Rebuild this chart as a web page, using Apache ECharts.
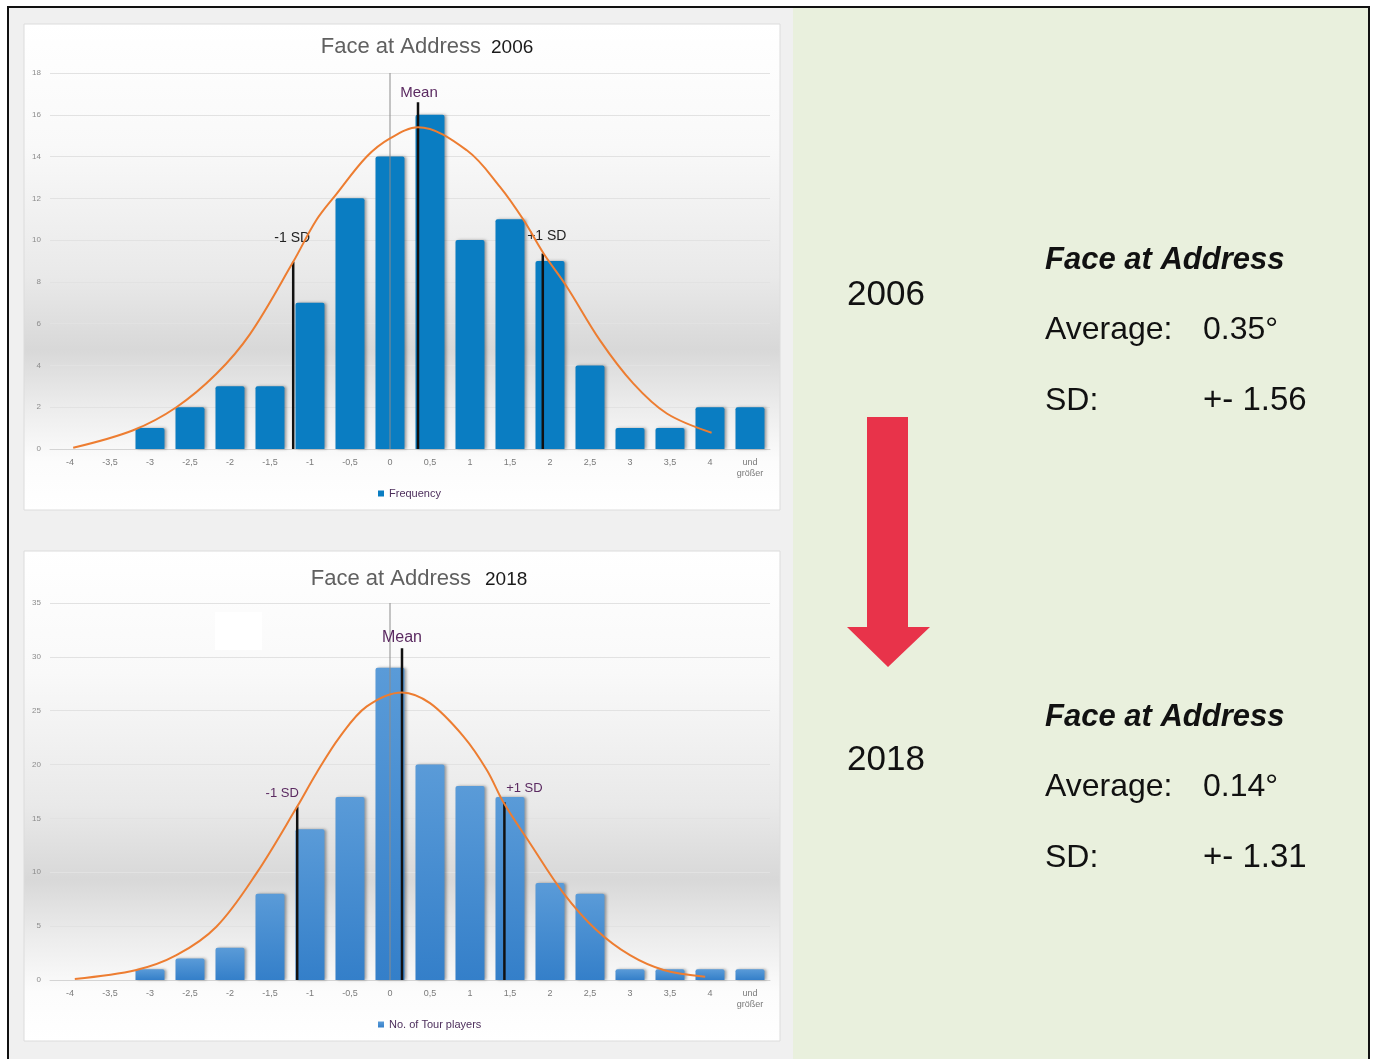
<!DOCTYPE html>
<html>
<head>
<meta charset="utf-8">
<script src="https://cdn.jsdelivr.net/npm/echarts@6/dist/echarts.min.js"></script>
<style>
html,body{margin:0;padding:0;background:#fff;}
#main{width:1375px;height:1059px;}
</style>
</head>
<body>
<div id="main"></div>
<script>
// ---------- data ----------
const categories = ['-4','-3,5','-3','-2,5','-2','-1,5','-1','-0,5','0','0,5','1','1,5','2','2,5','3','3,5','4','und\ngrößer'];
const freq2006 = [0,0,1,2,3,3,7,12,14,16,10,11,9,4,1,1,2,2];
const players2018 = [0,0,1,2,3,8,14,17,29,20,18,17,9,8,1,1,1,1];

const yTicks2006 = {min:0, max:18, step:2};
const yTicks2018 = {min:0, max:35, step:5};

// fitted normal curves (x in degrees, y in counts)
const curve2006X = [-3.96,-3.21,-2.67,-2.17,-1.75,-1.21,-0.92,-0.67,-0.29,0,0.35,0.96,1.375,1.67,1.92,2.21,2.625,3.04,3.46,4.02];
const curve2006Y = [0.06,0.9,2.0,3.6,5.5,8.96,10.96,12.2,14.0,14.87,15.4,14.3,12.55,10.96,9.36,7.77,5.2,3.14,1.7,0.78];
const curve2018X = [-3.94,-3.17,-2.67,-2.17,-1.67,-1.16,-0.92,-0.625,-0.29,0.15,0.5,0.92,1.21,1.425,1.75,2.17,2.58,3.0,3.42,3.94];
const curve2018Y = [0.1,0.93,2.3,4.95,9.9,16.1,19.2,22.6,25.4,26.7,25.7,22.6,19.5,16.4,12.7,8.05,4.64,2.3,0.93,0.3];

// marker lines (-1 SD, Mean, +1 SD)
const markerNames = ['-1 SD','Mean','+1 SD'];
const markers2006X = [-1.21,0.35,1.91];
const markers2006Top = [8.96,16.6,9.36];
const markers2018X = [-1.16,0.15,1.43];
const markers2018Top = [16.1,30.8,16.5];

// right panel
const statYears = ['2006','2018'];
const statTitle = 'Face at Address';
const statAverages = ['0.35°','0.14°'];
const statSDs = ['+- 1.56','+- 1.31'];

// ---------- styles ----------
const FONT = '"Liberation Sans", Arial, sans-serif';
const markerLabelStyle2006 = [
  {color:'#222', fontSize:14, distance:17, offset:[-1,0]},
  {color:'#5b2a61', fontSize:15, distance:2, offset:[1,0]},
  {color:'#222', fontSize:14, distance:10, offset:[4,0]}
];
const markerLabelStyle2018 = [
  {color:'#5b2a61', fontSize:13, distance:7, offset:[-15,0]},
  {color:'#5b2a61', fontSize:16, distance:3, offset:[0,0]},
  {color:'#5b2a61', fontSize:13, distance:7, offset:[20,0]}
];

function pairs(xs, ys){ return xs.map((x,i)=>[x, ys[i]]); }

function markerSeries(xs, tops, styles, xi, yi){
  return xs.map((x,i)=>({
    type:'line', xAxisIndex:xi, yAxisIndex:yi, silent:true, z:5,
    symbol:'circle', symbolSize:0, showSymbol:true,
    lineStyle:{color:'#111', width:2.5},
    label:{show:false},
    data:[[x,0], {value:[x,tops[i]], label:{show:true, position:'top', formatter:markerNames[i],
      color:styles[i].color, fontSize:styles[i].fontSize, distance:styles[i].distance,
      offset:styles[i].offset, fontFamily:FONT}}]
  }));
}

function catAxis(g){
  return {type:'category', gridIndex:g, data:categories,
    axisLine:{lineStyle:{color:'#d4d4d4'}}, axisTick:{show:false},
    axisLabel:{fontSize:9, color:'#7a7a7a', margin:8, interval:0, fontFamily:FONT, lineHeight:11},
    splitLine:{show:false}};
}
function valXAxis(g){
  return {type:'value', gridIndex:g, min:-4.25, max:4.75, show:false};
}
function valYAxis(g, t){
  return {type:'value', gridIndex:g, min:t.min, max:t.max, interval:t.step,
    axisLine:{show:false}, axisTick:{show:false},
    axisLabel:{fontSize:8, color:'#8c8c8c', margin:9, fontFamily:FONT},
    splitLine:{lineStyle:{color:'#e2e2e2', width:1}}};
}

const cardFill = () => new echarts.graphic.LinearGradient(0,0,0,1,[
  {offset:0,color:'#ffffff'},{offset:0.25,color:'#f9f9f9'},{offset:0.52,color:'#e9e9e9'},
  {offset:0.67,color:'#d8d8d8'},{offset:0.78,color:'#ebebeb'},{offset:0.9,color:'#fcfcfc'},{offset:1,color:'#ffffff'}]);

const graphics = [
  {type:'rect', z:-20, shape:{x:8,y:7,width:785,height:1060}, style:{fill:'#f0f0f0'}},
  {type:'rect', z:-20, shape:{x:793,y:7,width:576,height:1060}, style:{fill:'#e9f0dd'}},
  {type:'rect', z:-19, shape:{x:8,y:7,width:1361,height:1070}, style:{fill:'none', stroke:'#111', lineWidth:2}},
  {type:'rect', z:-15, shape:{x:24,y:24,width:756,height:486}, style:{fill:cardFill(), stroke:'#dcdcdc', lineWidth:1}},
  {type:'rect', z:-15, shape:{x:24,y:551,width:756,height:490}, style:{fill:cardFill(), stroke:'#dcdcdc', lineWidth:1}},
  {type:'rect', z:-14, shape:{x:215,y:612,width:47,height:38}, style:{fill:'#ffffff'}},
  // chart titles
  {type:'text', x:481, y:47, z:10, style:{text:'Face at Address', font:'22px '+FONT, fill:'#606060', textAlign:'right', textVerticalAlign:'middle'}},
  {type:'text', x:491, y:48, z:10, style:{text:statYears[0], font:'19px '+FONT, fill:'#1a1a1a', textAlign:'left', textVerticalAlign:'middle'}},
  {type:'text', x:471, y:579, z:10, style:{text:'Face at Address', font:'22px '+FONT, fill:'#606060', textAlign:'right', textVerticalAlign:'middle'}},
  {type:'text', x:485, y:580, z:10, style:{text:statYears[1], font:'19px '+FONT, fill:'#1a1a1a', textAlign:'left', textVerticalAlign:'middle'}},
  // arrow
  {type:'polygon', z:5, shape:{points:[[867,417],[908,417],[908,627],[930,627],[888,667],[847,627],[867,627]]}, style:{fill:'#e8334a'}}
];
const statBaseY = [260, 717];
const yearY = [295, 760];
statYears.forEach((yr,i)=>{
  const b = statBaseY[i];
  graphics.push(
    {type:'text', x:847, y:yearY[i], z:10, style:{text:yr, font:'35px '+FONT, fill:'#111', textVerticalAlign:'middle'}},
    {type:'text', x:1045, y:b, z:10, style:{text:statTitle, font:'italic bold 31px '+FONT, fill:'#111', textVerticalAlign:'middle'}},
    {type:'text', x:1045, y:b+70, z:10, style:{text:'Average:', font:'32px '+FONT, fill:'#111', textVerticalAlign:'middle'}},
    {type:'text', x:1203, y:b+70, z:10, style:{text:statAverages[i], font:'32px '+FONT, fill:'#111', textVerticalAlign:'middle'}},
    {type:'text', x:1045, y:b+141, z:10, style:{text:'SD:', font:'32px '+FONT, fill:'#111', textVerticalAlign:'middle'}},
    {type:'text', x:1203, y:b+141, z:10, style:{text:statSDs[i], font:'33px '+FONT, fill:'#111', textVerticalAlign:'middle'}}
  );
});

const barShadow = {shadowColor:'rgba(0,0,0,0.35)', shadowBlur:3, shadowOffsetX:2, shadowOffsetY:0};

const option = {
  animation:false,
  graphic:{elements:graphics},
  legend:[
    {data:['Frequency'], left:378, top:488, icon:'rect', itemWidth:6, itemHeight:6, padding:0,
     textStyle:{fontSize:11, color:'#4d2f5c', fontFamily:FONT}, selectedMode:false},
    {data:['No. of Tour players'], left:378, top:1019, icon:'rect', itemWidth:6, itemHeight:6, padding:0,
     textStyle:{fontSize:11, color:'#4d2f5c', fontFamily:FONT}, selectedMode:false}
  ],
  grid:[
    {left:50, top:73, width:720, height:376},
    {left:50, top:603, width:720, height:377}
  ],
  xAxis:[catAxis(0), valXAxis(0), catAxis(1), valXAxis(1)],
  yAxis:[valYAxis(0, yTicks2006), valYAxis(1, yTicks2018)],
  series:[
    {name:'Frequency', type:'bar', xAxisIndex:0, yAxisIndex:0, data:freq2006, barWidth:29, silent:true,
     itemStyle:Object.assign({color:'#0a7dc2', borderRadius:[2,2,0,0]}, barShadow)},
    {type:'line', xAxisIndex:1, yAxisIndex:0, silent:true, z:4, data:[[0,yTicks2006.min],[0,yTicks2006.max]],
     symbol:'none', lineStyle:{color:'#8c8c8c', width:1}},
    {type:'line', xAxisIndex:1, yAxisIndex:0, silent:true, z:6, data:pairs(curve2006X, curve2006Y),
     smooth:0.35, symbol:'none', lineStyle:{color:'#ed7d31', width:2}},
    ...markerSeries(markers2006X, markers2006Top, markerLabelStyle2006, 1, 0),

    {name:'No. of Tour players', type:'bar', xAxisIndex:2, yAxisIndex:1, data:players2018, barWidth:29, silent:true,
     itemStyle:Object.assign({color:new echarts.graphic.LinearGradient(0,0,0,1,[{offset:0,color:'#5a9bd8'},{offset:1,color:'#347fc9'}]),
       borderRadius:[2,2,0,0]}, barShadow)},
    {type:'line', xAxisIndex:3, yAxisIndex:1, silent:true, z:4, data:[[0,yTicks2018.min],[0,yTicks2018.max]],
     symbol:'none', lineStyle:{color:'#8c8c8c', width:1}},
    {type:'line', xAxisIndex:3, yAxisIndex:1, silent:true, z:6, data:pairs(curve2018X, curve2018Y),
     smooth:0.35, symbol:'none', lineStyle:{color:'#ed7d31', width:2}},
    ...markerSeries(markers2018X, markers2018Top, markerLabelStyle2018, 3, 1)
  ]
};

const chart = echarts.init(document.getElementById('main'), null, {renderer:'canvas'});
chart.setOption(option);
</script>
</body>
</html>
